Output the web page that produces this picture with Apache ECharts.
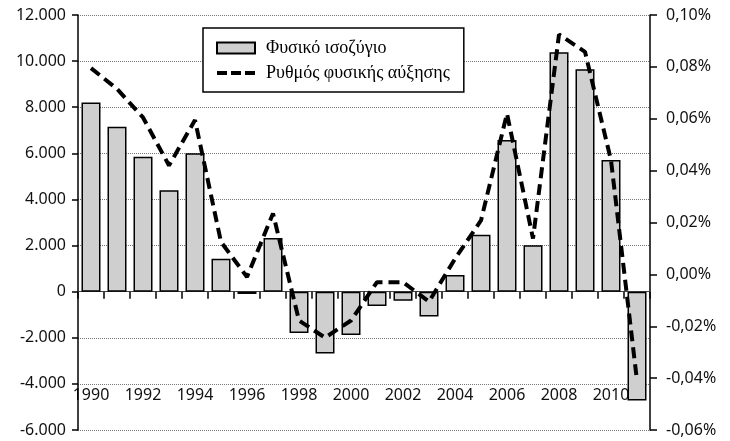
<!DOCTYPE html>
<html>
<head>
<meta charset="utf-8">
<script src="https://cdn.jsdelivr.net/npm/echarts@6/dist/echarts.min.js"></script>
<style>html,body{margin:0;padding:0;background:#fff}#c{width:730px;height:441px}</style>
</head>
<body>
<div id="c"></div>
<script>
const years = ['1990','1991','1992','1993','1994','1995','1996','1997','1998','1999','2000','2001','2002','2003','2004','2005','2006','2007','2008','2009','2010','2011'];
const naturalBalance = [8200, 7150, 5850, 4400, 6000, 1430, -100, 2330, -1790, -2680, -1880, -620, -390, -1080, 720, 2470, 6580, 2010, 10380, 9650, 5710, -4720];
const growthRate = [0.0795, 0.0715, 0.0605, 0.042, 0.0595, 0.0125, -0.001, 0.0235, -0.0178, -0.0244, -0.0178, -0.003, -0.003, -0.0105, 0.006, 0.0208, 0.062, 0.0138, 0.0925, 0.0858, 0.044, -0.041];
const leftTicks = {min: -6000, max: 12000, step: 2000};
const rightTicks = {min: -0.06, max: 0.10, step: 0.02};
const seriesNames = ['Φυσικό ισοζύγιο', 'Ρυθμός φυσικής αύξησης'];

const chart = echarts.init(document.getElementById('c'));
const sansFont = 'Noto Sans';
const serifFont = 'Liberation Serif';
function fmtThousands(v){
  const s = Math.abs(v).toString().replace(/\B(?=(\d{3})+(?!\d))/g, '.');
  return (v < 0 ? '-' : '') + s;
}
chart.setOption({
  animation: false,
  backgroundColor: '#fff',
  grid: {left: 78, right: 80, top: 15, bottom: 11, containLabel: false, outerBoundsMode: 'none'},
  legend: {
    left: 203, top: 28, orient: 'vertical', z: 20,
    backgroundColor: '#fff', borderColor: '#000', borderWidth: 1.5,
    padding: [11, 14, 10, 13], itemGap: 7, itemWidth: 38, itemHeight: 11,
    width: 260, symbolKeepAspect: true,
    textStyle: {fontFamily: serifFont, fontSize: 18, color: '#000', padding: [0, 0, 0, 6]},
    data: [
      {name: seriesNames[0], icon: 'rect'},
      {name: seriesNames[1], icon: 'path://M0,0H10V4H0Z M14,0H24V4H14Z M28,0H38V4H28Z', itemStyle: {color: '#000', borderWidth: 0}}
    ]
  },
  xAxis: [
    {
      type: 'category', data: years, z: 1,
      axisLine: {onZero: true, onZeroAxisIndex: 0, lineStyle: {color: '#444', width: 1}},
      axisTick: {show: true, alignWithLabel: false, interval: 0, length: 7, inside: false, lineStyle: {color: '#000', width: 1.5}},
      axisLabel: {show: false},
      splitLine: {show: false}
    },
    {
      type: 'category', data: years, position: 'bottom', z: 0,
      axisLine: {show: false, onZero: false},
      axisTick: {show: false},
      axisLabel: {interval: 1, inside: true, margin: 27, fontFamily: sansFont, fontSize: 16, color: '#111'},
      splitLine: {show: false}
    }
  ],
  yAxis: [
    {
      type: 'value', min: leftTicks.min, max: leftTicks.max, interval: leftTicks.step,
      position: 'left', z: 1,
      axisLine: {show: true, onZero: false, lineStyle: {color: '#000', width: 1.5}},
      axisTick: {show: true, length: 6, lineStyle: {color: '#000', width: 1.5}},
      axisLabel: {margin: 12, fontFamily: sansFont, fontSize: 16, color: '#111', formatter: fmtThousands},
      splitLine: {show: true, lineStyle: {color: '#777', width: 1, type: [1, 1]}}
    },
    {
      type: 'value', min: rightTicks.min, max: rightTicks.max, interval: rightTicks.step,
      position: 'right', z: 1,
      axisLine: {show: true, onZero: false, lineStyle: {color: '#000', width: 1.5}},
      axisTick: {show: true, length: 7, lineStyle: {color: '#000', width: 1.5}},
      axisLabel: {margin: 16, fontFamily: sansFont, fontSize: 16, color: '#111',
        formatter: v => (Math.round(v * 100) / 100).toFixed(2).replace('.', ',') + '%'},
      splitLine: {show: false}
    }
  ],
  series: [
    {
      name: seriesNames[0], type: 'bar', xAxisIndex: 0, yAxisIndex: 0, data: naturalBalance,
      barWidth: 19,
      itemStyle: {color: '#cfcfcf', borderColor: '#000', borderWidth: 1.5},
      z: 10
    },
    {
      name: seriesNames[1], type: 'line', xAxisIndex: 0, yAxisIndex: 1, data: growthRate,
      symbol: 'none',
      lineStyle: {color: '#000', width: 4, type: [11, 6]},
      itemStyle: {color: '#000'},
      z: 11
    }
  ]
});
</script>
</body>
</html>
